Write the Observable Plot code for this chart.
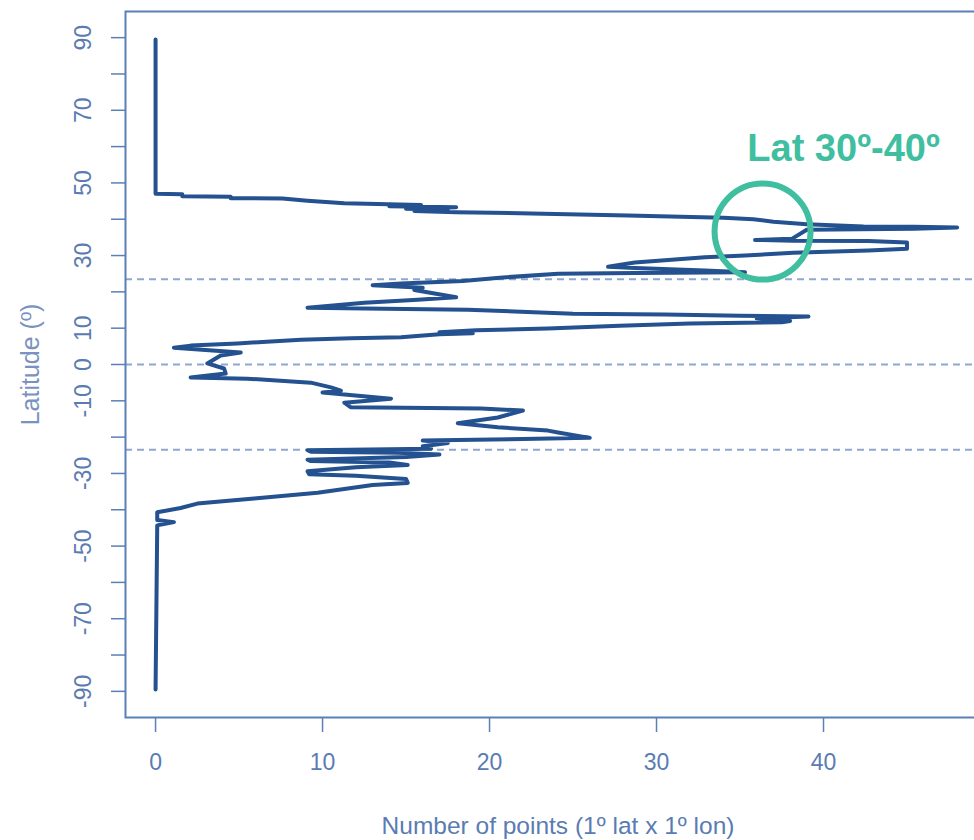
<!DOCTYPE html>
<html><head><meta charset="utf-8">
<script src="https://cdn.jsdelivr.net/npm/d3@7"></script>
<script src="https://cdn.jsdelivr.net/npm/@observablehq/plot@0.6"></script>
<style>
html,body{margin:0;padding:0;background:#fff;overflow:hidden;width:974px;height:840px}
#chart{width:974px;height:840px;overflow:hidden}
#chart svg{max-width:none !important;}
</style></head><body><div id="chart"></div>
<script>
// Number of points per latitude, traced in latitude order (north to south)
const latitude = [89.5,47.0,46.9,46.3,46.2,45.8,45.7,45.1,44.4,43.9,43.6,43.3,42.9,42.6,42.3,41.9,41.6,41.0,40.4,40.0,39.3,38.6,38.0,37.9,37.7,37.4,37.1,34.6,34.3,34.1,34.0,33.6,31.9,31.4,30.8,30.0,29.5,28.1,26.9,26.6,25.9,25.4,25.2,25.0,23.9,23.0,22.3,21.8,21.1,20.5,18.5,17.8,17.0,15.6,15.4,15.1,14.0,13.8,13.4,13.2,12.7,12.0,11.6,11.3,10.7,9.9,9.4,8.9,8.6,8.3,7.5,7.2,6.8,6.2,5.8,5.2,4.6,3.3,2.5,0.3,-1.1,-2.5,-3.6,-3.9,-5.0,-6.3,-7.2,-7.7,-9.4,-10.5,-11.8,-12.1,-12.7,-14.6,-16.2,-17.3,-18.2,-18.7,-20.2,-20.5,-20.9,-21.6,-22.5,-23.2,-23.6,-24.0,-24.3,-24.8,-25.5,-26.2,-26.6,-27.0,-27.7,-28.3,-29.4,-30.2,-30.6,-31.5,-32.6,-33.2,-35.3,-36.9,-38.3,-39.5,-40.7,-42.8,-43.4,-44.3,-89.5];
const count = [0,0,1.6,1.6,4.5,4.5,7.6,9.1,11.3,15.9,14.0,18.0,15.0,17.5,15.5,18.0,22.5,28.3,34.0,35.8,37.0,39.0,42.4,45.4,48.0,45.4,39.0,38.1,35.9,38.2,42.7,45.0,45.0,42.7,38.2,35.3,32.9,28.7,27.1,28.7,32.9,35.3,28.7,24.1,20.6,18.4,14.7,13.0,16.0,15.5,18.0,15.7,12.5,9.1,12.5,18.7,25.0,30.5,35.0,39.1,36.0,38.0,37.5,32.0,27.8,23.5,19.2,17.0,19.0,17.0,14.7,11.7,8.7,6.4,4.9,2.1,1.1,5.1,3.9,3.1,4.1,4.2,2.1,5.5,9.3,10.5,11.1,10.0,14.1,11.3,11.7,19.5,22.0,20.5,18.1,20.5,23.5,24.1,26.0,22.0,16.0,17.5,16.0,16.5,9.1,9.3,14.5,17.0,15.0,9.1,9.3,14.0,15.1,12.0,9.1,9.2,12.0,15.0,15.1,13.0,9.7,5.9,2.5,1.5,0.1,0.1,1.1,0.1,0.0];

// Reference latitudes (tropics and equator)
const referenceLats = [23.44, 0, -23.44];

// Axis ticks and labels
const xTicks = [0, 10, 20, 30, 40];
const yTicks = [90, 80, 70, 60, 50, 40, 30, 20, 10, 0, -10, -20, -30, -40, -50, -60, -70, -80, -90];
const yTickLabels = [90, 70, 50, 30, 10, 0, -10, -30, -50, -70, -90];

// Annotation (highlighted band)
const annotationLabel = ["Lat 30º-40º"];
const annotationCount = [36.35, 41.2];
const annotationLat = [36.6, 59.5];

const xTitle = "Number of points (1º lat x 1º lon)";
const yTitle = "Latitude (º)";

const rows = latitude.map((lat, i) => ({lat, count: count[i]}));

const lineColor = "#24518f";
const axisColor = "#5b7fb7";
const textColor = "#5a7cb2";
const green = "#3fbf9f";
const font = "'Liberation Sans', Arial, sans-serif";

const chart = Plot.plot({
  width: 990,
  height: 840,
  marginLeft: 125,
  marginRight: 0,
  marginTop: 11,
  marginBottom: 123,
  style: {fontFamily: font, background: "#fff", maxWidth: "none"},
  x: {domain: [-1.8, 50]},
  y: {domain: [-97.2, 97.2]},
  marks: [
    Plot.ruleY(referenceLats, {stroke: "#8ea8cf", strokeWidth: 2, strokeDasharray: "7,5"}),
    Plot.line(rows, {x: "count", y: "lat", stroke: lineColor, strokeWidth: 4, strokeLinejoin: "round", strokeLinecap: "round", curve: "linear"}),
    Plot.frame({stroke: axisColor, strokeWidth: 2}),
    Plot.axisX(xTicks, {tickSize: 15, tickPadding: 21, fontSize: 23, stroke: axisColor, fill: textColor, strokeWidth: 1.5, label: null, tickFormat: d => String(d)}),
    Plot.axisY(yTicks, {tickSize: 14, tickPadding: 0, stroke: axisColor, strokeWidth: 1.5, label: null, tickFormat: () => ""}),
    Plot.text(yTickLabels, {y: d => d, text: d => String(d), frameAnchor: "left", textAnchor: "middle", dx: -42, rotate: -90, fontSize: 23, fill: textColor}),
    Plot.text([xTitle], {frameAnchor: "bottom", textAnchor: "middle", dy: 116, fontSize: 24.5, fill: textColor}),
    Plot.text([yTitle], {frameAnchor: "left", textAnchor: "middle", dx: -95, rotate: -90, fontSize: 25, fill: "#7a92c0"}),
    Plot.dot([0], {x: () => annotationCount[0], y: () => annotationLat[0], r: 48, stroke: green, strokeWidth: 6, fill: "none"}),
    Plot.text(annotationLabel, {x: () => annotationCount[1], y: () => annotationLat[1], fontSize: 38, fontWeight: "bold", fill: green})
  ]
});
document.getElementById("chart").appendChild(chart);
</script>
</body></html>
